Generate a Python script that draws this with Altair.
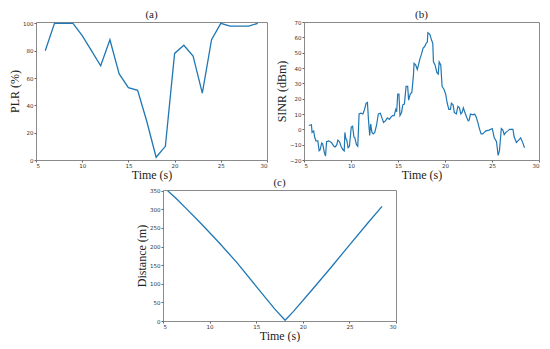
import altair as alt
import pandas as pd

# ---------------- data ----------------
plr_time = list(range(6, 30))
plr_values = [80, 100, 100, 100, 91, 80, 69, 88, 63, 53, 51, 28, 2, 10,
              78, 84, 76, 49, 88, 100, 98, 98, 98, 100]

sinr_time = [5.51, 5.79, 5.86, 6.03, 6.13, 6.27, 6.47, 6.61, 6.71, 6.88, 6.99, 7.16, 7.29, 7.40,
             7.64, 7.91, 8.18, 8.32, 8.49, 8.60, 8.77, 8.94, 9.11, 9.28, 9.35, 9.45, 9.55, 9.69,
             9.83, 10.03, 10.17, 10.31, 10.41, 10.58, 10.72, 10.86, 11.06, 11.27, 11.44, 11.61,
             11.75, 11.85, 11.99, 12.09, 12.23, 12.36, 12.53, 12.71, 12.91, 13.12, 13.32, 13.46,
             13.66, 13.87, 14.08, 14.25, 14.42, 14.59, 14.76, 14.86, 14.97, 15.10, 15.21, 15.38,
             15.51, 15.68, 15.86, 16.03, 16.13, 16.30, 16.47, 16.64, 16.71, 16.88, 17.05, 17.16,
             17.33, 17.50, 17.67, 17.84, 17.98, 18.12, 18.18, 18.39, 18.53, 18.70, 18.77, 18.94,
             19.14, 19.28, 19.38, 19.55, 19.69, 19.90, 20.07, 20.24, 20.41, 20.58, 20.68, 20.86,
             20.99, 21.20, 21.37, 21.54, 21.68, 21.82, 21.95, 22.12, 22.29, 22.47, 22.57, 22.71,
             22.98, 23.15, 23.32, 23.49, 23.66, 23.84, 24.01, 24.18, 24.35, 24.69, 25.03, 25.24,
             25.48, 25.65, 25.79, 25.99, 26.16, 26.30, 26.47, 26.68, 26.88, 27.23, 27.36, 27.60,
             27.84, 28.05, 28.29, 28.46]
sinr_values = [2.5, 3, -2, -1, -5, -7.5, -7.5, -14, -13.5, -9, -9.5, -15, -17.5, -8,
               -7.5, -8.5, -11, -11.5, -10, -7, -8, -11, -13, -14, -2, -6, -7, -12,
               -11, 1.5, 2, -5, -5.5, -10, -11, 10, 10.5, 10, 13, 17,
               17.5, 7, -4, 3.5, -2, -3, -2, 2.5, 10, 10.5, 7, 4.5,
               5.5, 7.5, 6.5, 8, 9, 9, 13, 11.5, 23, 23, 9, 11,
               16, 16.5, 28, 28, 19, 23, 24, 35, 43, 42, 39, 41.5,
               46, 49, 53, 54, 56, 57, 63, 62, 59, 56, 44, 42,
               37, 36, 44, 42, 28, 26, 23, 17, 13, 13, 17, 16,
               11, 10, 15, 14, 10, 11, 14, 11, 8, 5.5, 6, 10,
               9.5, 10, 8, 4.5, 0.5, -3, -3, -2, -1, -0.5, 0.5, -5.5,
               -8, -17, -14, 0.5, -0.5, -3.5, -2, -1, 0, 0, -5, -8.5,
               -7, -5.5, -9, -12]

dist_time = [5.5, 6.5, 7.5, 9, 11, 13, 15, 17, 18.1, 19, 21, 23, 25, 27, 28.5]
dist_values = [350, 327, 302, 264, 211, 155, 93, 32, 2, 26, 84, 143, 204, 264, 308]

panel_titles = ["(a)", "(b)", "(c)"]
x_ticks = [5, 10, 15, 20, 25, 30]
plr_ticks = [0, 20, 40, 60, 80, 100]
sinr_ticks = [-20, -10, 0, 10, 20, 30, 40, 50, 60, 70]
dist_ticks = [0, 50, 100, 150, 200, 250, 300, 350]

df_a = pd.DataFrame({"t": plr_time, "v": plr_values})
df_b = pd.DataFrame({"t": sinr_time, "v": sinr_values})
df_c = pd.DataFrame({"t": dist_time, "v": dist_values})

LINE = "#1f77b4"
SERIF = "Liberation Serif"


def axis(values, title):
    return alt.Axis(values=values, title=title, grid=False, domain=False,
                    labelFont="DejaVu Sans", labelFontSize=5.5, labelColor="#333",
                    tickSize=2, tickColor="#666", labelPadding=1,
                    titleFont=SERIF, titleFontSize=12, titleFontWeight="normal",
                    titleColor="#222", titlePadding=1)


def panel(df, title, ydom, yticks, ytitle, w, h, sw):
    line = alt.Chart(df).mark_line(color=LINE, strokeWidth=sw).encode(
        x=alt.X("t:Q", scale=alt.Scale(domain=[5, 30], nice=False, zero=False),
                axis=axis(x_ticks, "Time (s)")),
        y=alt.Y("v:Q", scale=alt.Scale(domain=ydom, nice=False, zero=False),
                axis=axis(yticks, ytitle)),
    )
    label = alt.Chart(pd.DataFrame({"lab": [title]})).mark_text(
        font=SERIF, fontSize=11, color="#222", baseline="middle", align="center"
    ).encode(text="lab:N", x=alt.value(w / 2), y=alt.value(-7))
    return alt.layer(line, label).properties(width=w, height=h)


a = panel(df_a, panel_titles[0], [0, 101], plr_ticks, "PLR (%)", 231, 138, 1.3)
b = panel(df_b, panel_titles[1], [-20, 70], sinr_ticks, "SINR (dBm)", 235, 138, 1.2)
c = panel(df_c, panel_titles[2], [0, 352], dist_ticks, "Distance (m)", 233, 131, 1.3)

spacer = alt.Chart(pd.DataFrame({"z": [0]})).mark_point(opacity=0).encode(
    x=alt.value(0), y=alt.value(0)
).properties(width=99, height=20, view=alt.ViewBackground(strokeOpacity=0))

top = alt.hconcat(a, b, spacing=6)
bottom = alt.hconcat(spacer, c, spacing=0)

chart = alt.vconcat(top, bottom, spacing=-5).properties(
    padding=0
).configure_view(stroke="#8a8a8a", strokeWidth=1)

chart.save("out.html", embed_options={"renderer": "svg", "actions": False})
